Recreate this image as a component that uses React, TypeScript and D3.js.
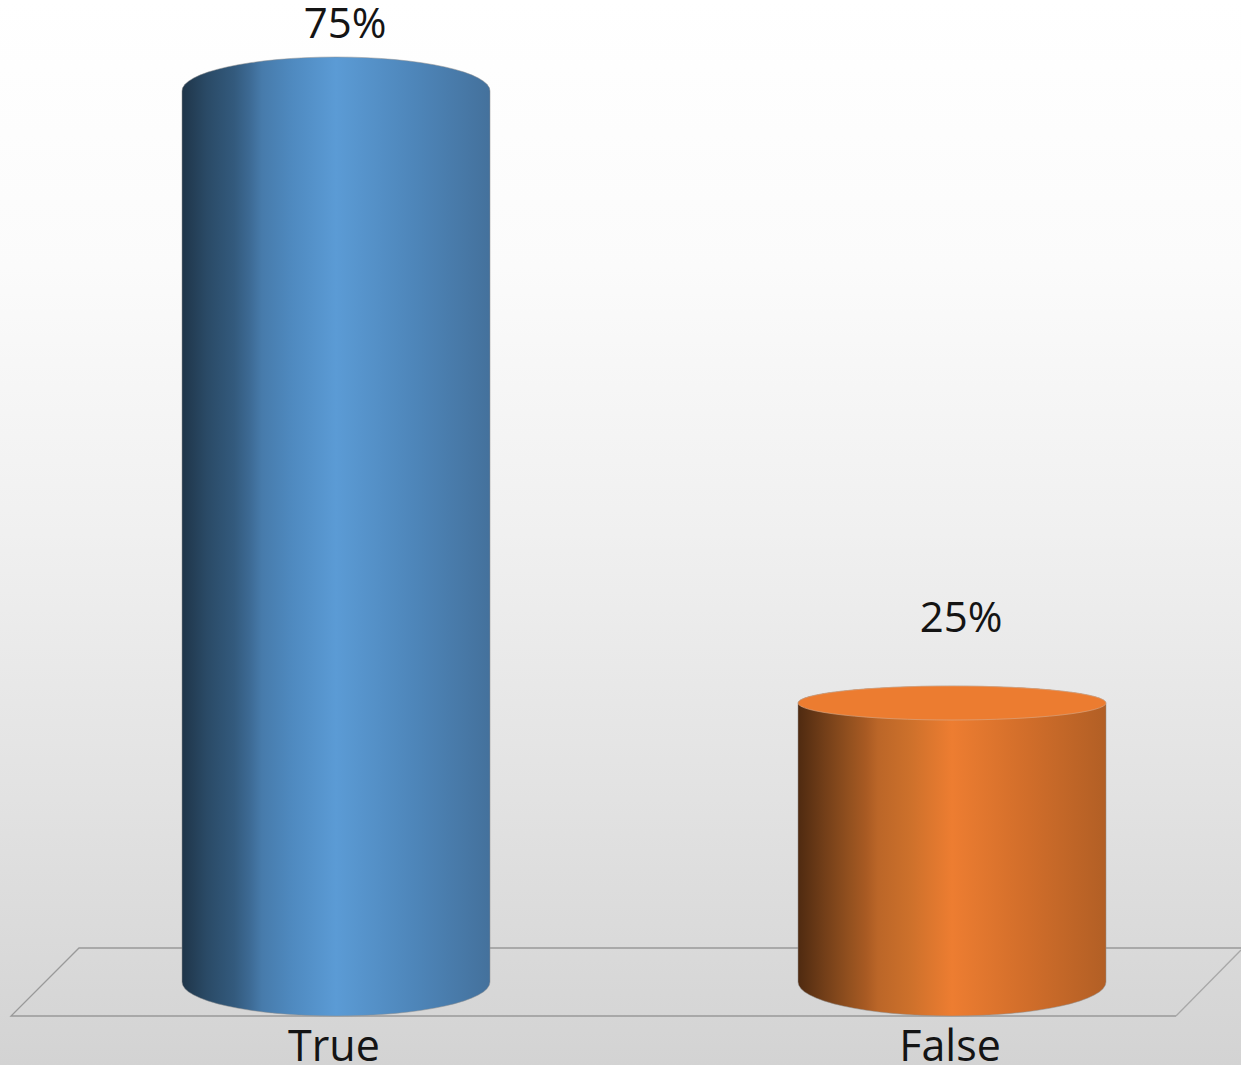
import React from 'react';
import * as d3 from 'd3';

const categories = ['True', 'False'];
const percentValues = [75, 25];
const percentLabels = ['75%', '25%'];

const WIDTH = 1241;
const HEIGHT = 1065;

// layout
const floor = { backTop: 948, frontBottom: 1016, backLeft: 79, frontLeft: 11, frontRight: 1176, backRight: 1241, backRightY: 950 };
const bottomRy = 34;
const sideBottom = floor.frontBottom - bottomRy;

const x = d3.scaleBand<string>().domain(categories).range([28, 1260]);
const y = d3.scaleLinear().domain([0, 75]).range([1009, 91]);

const palettes = [
  [['0', '#1f3549'], ['0.08', '#2a4a66'], ['0.17', '#335a7d'], ['0.22', '#3d6a94'], ['0.26', '#477bab'], ['0.36', '#4f8ac0'], ['0.5', '#5b9bd5'], ['0.75', '#4e86ba'], ['1', '#44719c']],
  [['0', '#4f2a10'], ['0.08', '#703d18'], ['0.17', '#94511f'], ['0.22', '#a85a23'], ['0.26', '#bb6628'], ['0.36', '#cc702b'], ['0.5', '#ed7d31'], ['0.75', '#d06d2a'], ['1', '#b25f25']],
];
const topColors = [null, '#ec7c30'];
const topRy = [34, 17];
const labelGap = [53, 71];
const labelShift = [9, 9];

function cylinderPath(left: number, right: number, top: number, ry: number) {
  const rx = (right - left) / 2;
  return `M${left},${top} A${rx},${ry} 0 0 1 ${right},${top} L${right},${sideBottom} A${rx},${bottomRy} 0 0 1 ${left},${sideBottom} Z`;
}

export default function App() {
  const barW = x.bandwidth() / 2;
  const line = d3.line();
  return (
    <svg width={WIDTH} height={HEIGHT} style={{ position: 'absolute', left: 0, top: 0, display: 'block' }}>
      <defs>
        <linearGradient id="bg" x1="0" y1="0" x2="0" y2="1">
          <stop offset="0" stopColor="#ffffff" />
          <stop offset="0.25" stopColor="#fbfbfb" />
          <stop offset="0.5" stopColor="#f0f0f0" />
          <stop offset="0.75" stopColor="#e2e2e2" />
          <stop offset="1" stopColor="#d3d3d3" />
        </linearGradient>
        {palettes.map((stops, i) => (
          <linearGradient key={i} id={`cyl${i}`} x1="0" y1="0" x2="1" y2="0">
            {stops.map(([o, c]) => <stop key={o} offset={o} stopColor={c} />)}
          </linearGradient>
        ))}
      </defs>
      <rect width={WIDTH} height={HEIGHT} fill="url(#bg)" />

      <path
        d={line([[floor.frontRight, floor.frontBottom], [floor.frontLeft, floor.frontBottom], [floor.backLeft, floor.backTop], [floor.backRight, floor.backTop]]) ?? ''}
        fill="none" stroke="#999999" strokeWidth={1.3}
      />
      <path
        d={line([[floor.frontRight, floor.frontBottom], [floor.backRight, floor.backRightY]]) ?? ''}
        fill="none" stroke="#a8a8a8" strokeWidth={1.3}
      />

      {categories.map((c, i) => {
        const cx = x(c)! + x.bandwidth() / 2;
        const left = cx - barW / 2;
        const right = cx + barW / 2;
        const top = y(percentValues[i]);
        return (
          <g key={c}>
            <path d={cylinderPath(left, right, top, topRy[i])} fill={`url(#cyl${i})`} stroke="#8f8f8f" strokeOpacity={0.5} strokeWidth={1} />
            {topColors[i] && (
              <ellipse cx={cx} cy={top} rx={barW / 2} ry={topRy[i]} fill={topColors[i]!} stroke="#d9ab8c" strokeOpacity={0.6} strokeWidth={1} />
            )}
            <text x={cx + labelShift[i]} y={top - labelGap[i]} textAnchor="middle" fontFamily="'Open Sans', sans-serif" fontSize={42} fill="#141414">
              {percentLabels[i]}
            </text>
            <text x={cx - 2} y={1061} textAnchor="middle" fontFamily="'Open Sans', sans-serif" fontSize={43} fill="#141414">
              {c}
            </text>
          </g>
        );
      })}
    </svg>
  );
}
